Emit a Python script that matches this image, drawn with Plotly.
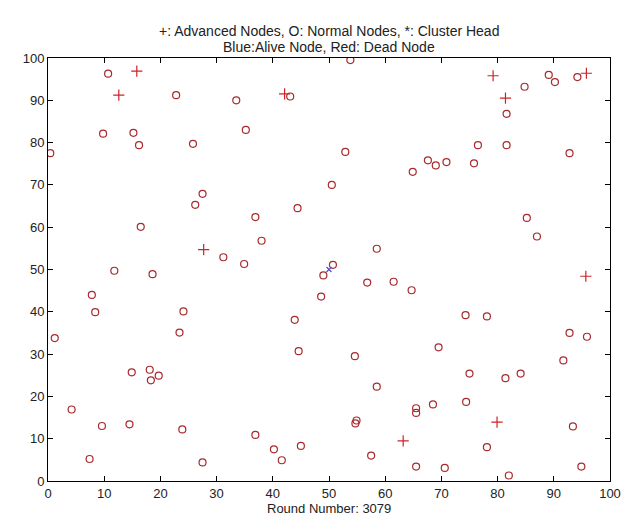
import plotly.graph_objects as go

# Normal nodes (circles, dead = red)
normal_x = [10.7, 22.8, 33.5, 9.8, 15.2, 16.2, 25.8, 0.4, 53.8, 43.1, 35.2, 52.9, 64.9, 67.6, 50.5,
            84.8, 89.1, 90.2, 94.2, 81.6, 76.5, 81.6, 92.8, 69.0, 70.9, 75.8,
            27.5, 26.2, 16.5, 31.2, 11.8, 18.6, 7.8, 8.4, 24.1, 23.4, 1.2,
            44.4, 36.9, 38.0, 34.9, 58.5, 50.7, 49.0, 56.8, 61.5, 64.7, 48.6, 43.9,
            85.2, 87.0, 74.3, 78.1, 92.8, 95.9,
            14.9, 18.1, 19.7, 18.3, 4.2, 9.6, 14.5, 23.9, 7.4, 27.5,
            44.6, 54.6, 58.5, 65.5, 65.5, 54.9, 54.7, 36.9, 40.2, 45.0, 41.6, 57.5, 65.5,
            69.5, 91.7, 75.0, 81.4, 84.1, 68.5, 74.4, 93.4, 78.1, 70.6, 82.0, 94.9]
normal_y = [96.3, 91.2, 90.0, 82.1, 82.3, 79.4, 79.7, 77.5, 99.5, 90.9, 83.0, 77.8, 73.1, 75.8, 70.0,
            93.2, 96.0, 94.3, 95.5, 86.8, 79.4, 79.4, 77.5, 74.6, 75.4, 75.1,
            67.9, 65.3, 60.1, 52.9, 49.7, 48.9, 44.0, 39.9, 40.1, 35.1, 33.8,
            64.5, 62.4, 56.8, 51.3, 54.9, 51.1, 48.6, 46.9, 47.1, 45.1, 43.6, 38.1,
            62.2, 57.8, 39.2, 38.9, 35.0, 34.1,
            25.7, 26.3, 24.9, 23.8, 16.9, 13.0, 13.4, 12.2, 5.2, 4.4,
            30.7, 29.5, 22.3, 17.2, 16.1, 14.3, 13.6, 10.9, 7.5, 8.3, 4.9, 6.0, 3.4,
            31.6, 28.5, 25.4, 24.3, 25.4, 18.1, 18.7, 12.9, 8.0, 3.1, 1.3, 3.4]

# Advanced nodes (plus, dead = red)
adv_x = [15.8, 12.6, 42.1, 79.2, 95.8, 81.4, 27.7, 95.7, 63.2, 79.9]
adv_y = [96.9, 91.2, 91.5, 95.8, 96.4, 90.5, 54.7, 48.4, 9.5, 13.9]

# Sink
sink_x = [50.0]
sink_y = [50.0]

tick_vals = [0, 10, 20, 30, 40, 50, 60, 70, 80, 90, 100]
tick_text = [str(v) for v in tick_vals]

fig = go.Figure()
fig.add_trace(go.Scatter(x=normal_x, y=normal_y, mode="markers",
                         marker=dict(symbol="circle-open", size=7, color="#a82a2e",
                                     line=dict(width=1.2, color="#a82a2e")),
                         showlegend=False, hoverinfo="skip"))
fig.add_trace(go.Scatter(x=adv_x, y=adv_y, mode="markers",
                         marker=dict(symbol="cross-thin", size=8, color="#d02226",
                                     line=dict(width=1.2, color="#d02226")),
                         showlegend=False, hoverinfo="skip"))
fig.add_trace(go.Scatter(x=sink_x, y=sink_y, mode="markers",
                         marker=dict(symbol="x-thin", size=5, color="#5050d0",
                                     line=dict(width=1.2, color="#5050d0")),
                         showlegend=False, hoverinfo="skip"))

axis_common = dict(range=[0, 100], tickvals=tick_vals, ticktext=tick_text,
                   showgrid=False, zeroline=False, showline=True, linecolor="black",
                   linewidth=1, mirror="ticks", ticks="inside", ticklen=5,
                   tickcolor="black", tickwidth=1,
                   tickfont=dict(family="Liberation Sans, Arial", size=13, color="#222"))

fig.update_layout(
    width=629, height=515,
    margin=dict(l=40, r=27, t=50, b=42),
    paper_bgcolor="white", plot_bgcolor="white",
    xaxis=dict(**axis_common),
    yaxis=dict(**axis_common),
    font=dict(family="Liberation Sans, Arial", size=14, color="#222"),
    annotations=[
        dict(text="+: Advanced Nodes, O: Normal Nodes, *: Cluster Head",
             xref="paper", yref="paper", x=0.5, y=1, yshift=27, showarrow=False,
             xanchor="center", yanchor="middle", font=dict(size=14)),
        dict(text="Blue:Alive Node, Red: Dead Node",
             xref="paper", yref="paper", x=0.5, y=1, yshift=11, showarrow=False,
             xanchor="center", yanchor="middle", font=dict(size=14)),
        dict(text="Round Number: 3079",
             xref="paper", yref="paper", x=0.5, y=0, yshift=-27, showarrow=False,
             xanchor="center", yanchor="middle", font=dict(size=13)),
    ],
)

fig.write_html("out.html")
